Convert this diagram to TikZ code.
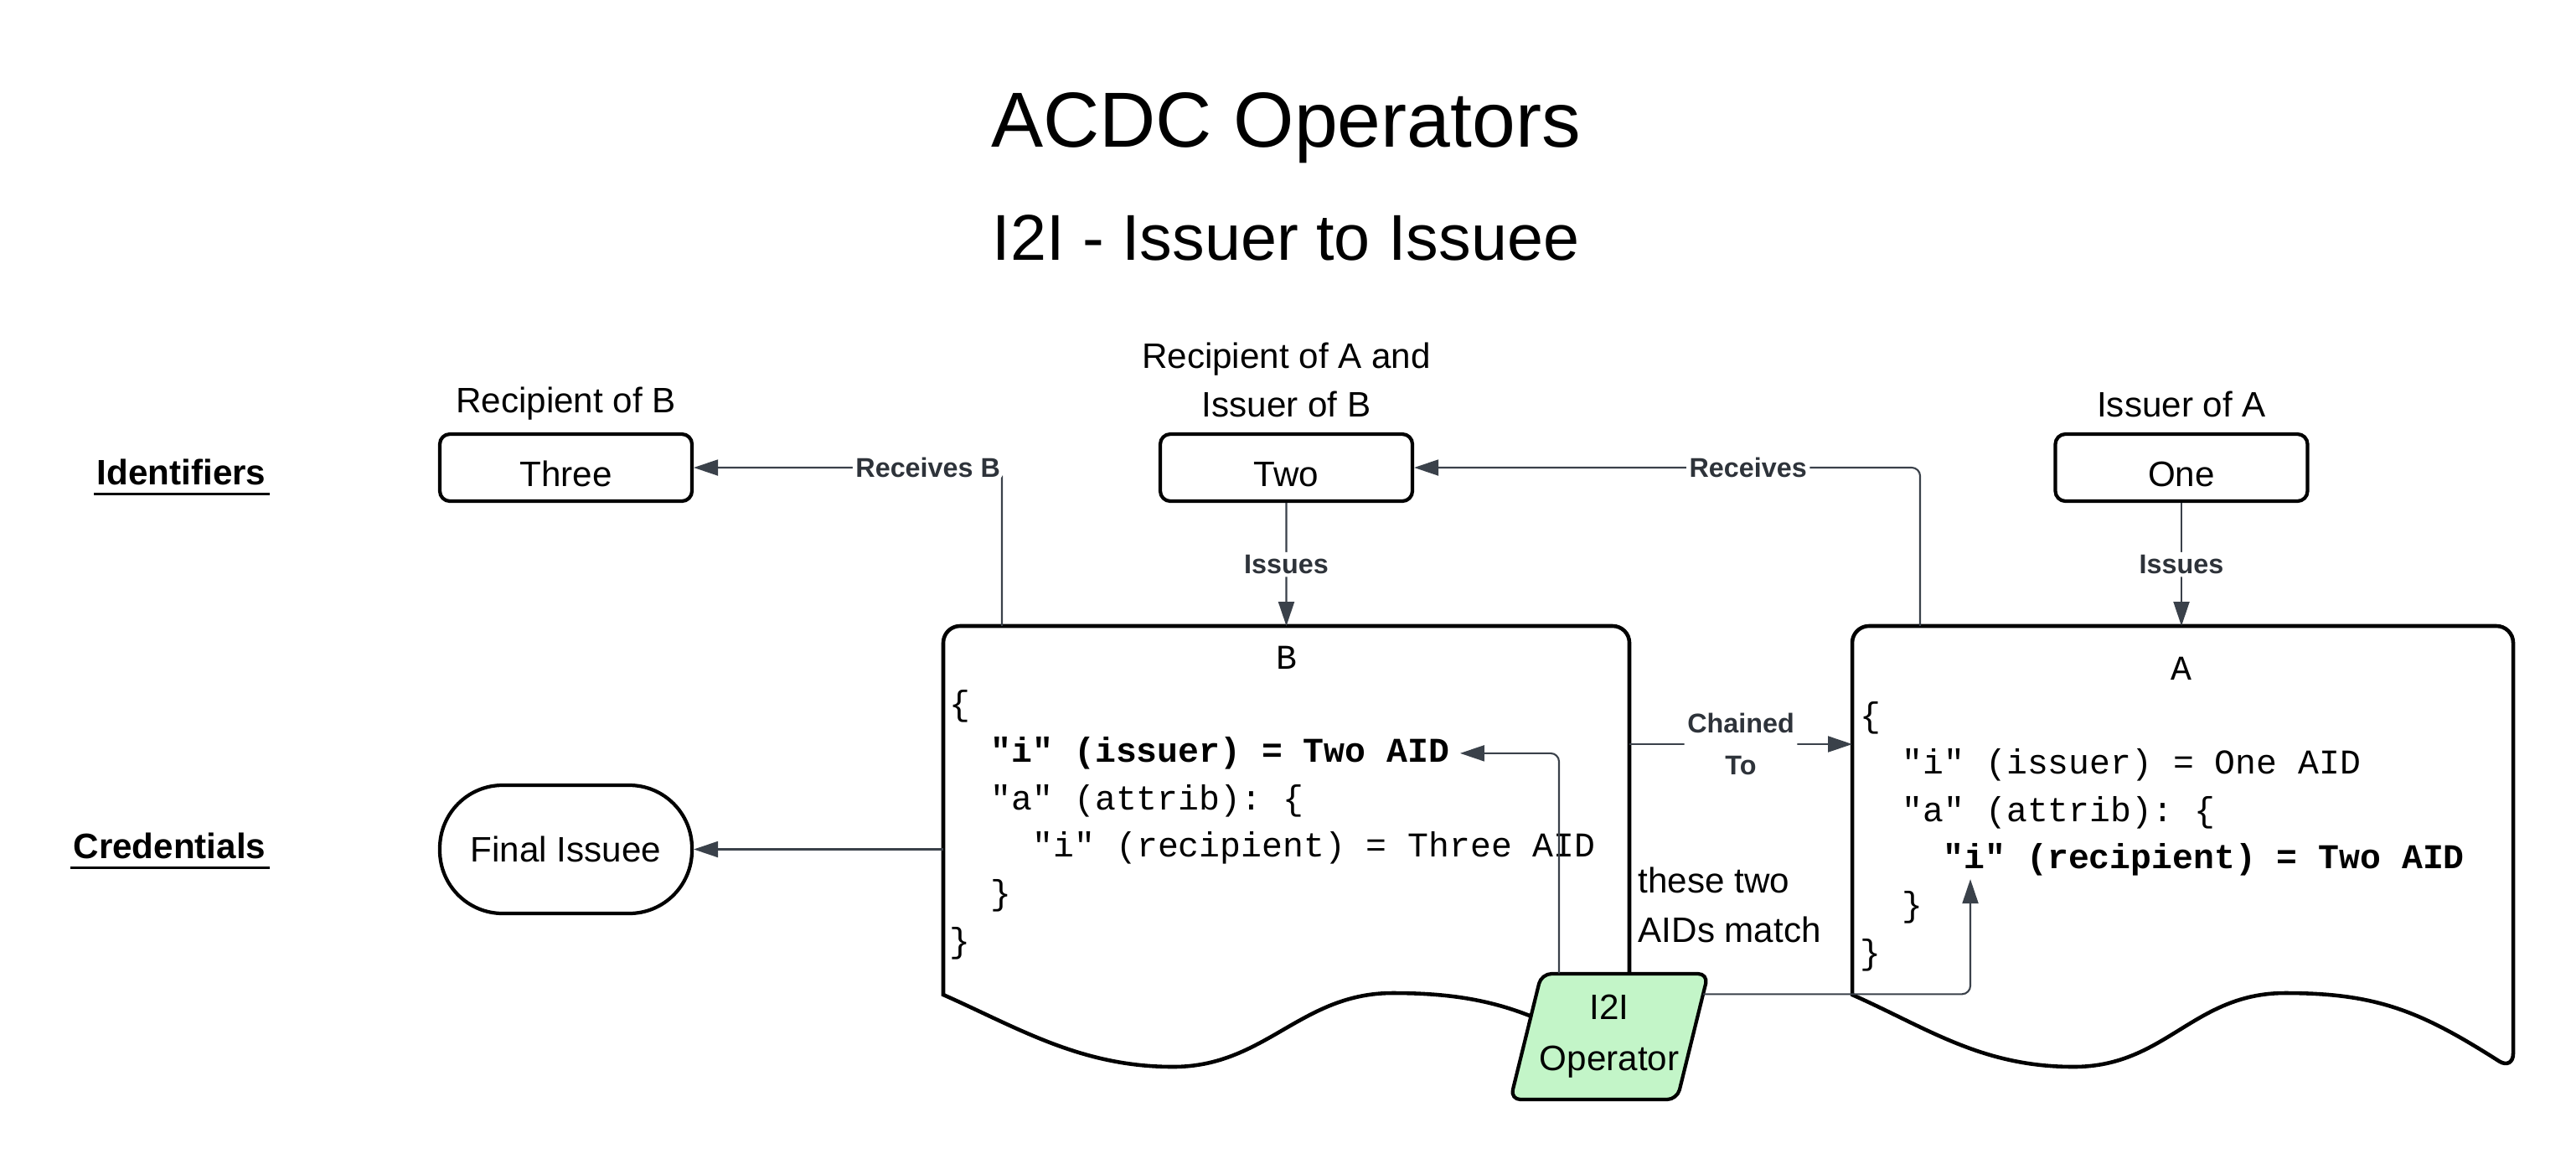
\documentclass[tikz,border=0pt]{standalone}
\usepackage{fontspec}
\setmainfont{Liberation Sans}
\setmonofont{Liberation Mono}
\usetikzlibrary{arrows.meta,calc}

\definecolor{connGray}{HTML}{3A414A}
\definecolor{labelGray}{HTML}{2E333A}
\definecolor{opGreen}{HTML}{C3F5C8}

\tikzset{
  conn/.style={draw=connGray, line width=0.6pt, rounded corners=1mm, -{Triangle[length=2.9mm,width=1.9mm]}},
  connlabel/.style={fill=white, text=labelGray, font=\bfseries\fontsize{9.2}{14}\selectfont, inner sep=1pt},
  idbox/.style={draw, line width=1.2pt, rounded corners=1.2mm, minimum width=3.01cm, minimum height=0.8cm,
    text height=12.6pt, text depth=0pt, font=\fontsize{12}{14}\selectfont},
  finalbox/.style={draw, line width=1.2pt, rounded corners=7.5mm, minimum width=3.01cm, minimum height=1.53cm,
    font=\fontsize{12}{14}\selectfont},
  captext/.style={inner sep=0pt, font=\fontsize{12}{16.5}\selectfont},
  rowlabel/.style={anchor=base east, inner sep=0pt, font=\bfseries\fontsize{12}{14}\selectfont},
  docframe/.style={anchor=north west, minimum width=8.19cm, minimum height=4.4cm, inner sep=0pt, outer sep=0pt},
  docline/.style={line width=1.3pt},
  doctitle/.style={anchor=base, inner sep=0pt, font=\ttfamily\fontsize{11.8}{14}\selectfont},
  codeline/.style={anchor=base west, inner sep=0pt, font=\ttfamily\fontsize{11.8}{14}\selectfont},
  opshape/.style={draw, fill=opGreen, line width=1.2pt, rounded corners=1.2mm},
  optext/.style={minimum width=1.99cm, minimum height=1.5cm, inner sep=0pt, align=center,
    font=\fontsize{12}{17.4}\selectfont},
  notetext/.style={anchor=north west, inner sep=0pt, align=left, font=\fontsize{12}{16.8}\selectfont},
}

% credential document outline with wavy bottom
\newcommand{\credshape}[1]{%
  \draw[docline] (#1.south west) [rounded corners=2mm] -- (#1.north west) -- (#1.north east)
    -- ([yshift=-9mm]#1.south east) [sharp corners]
    .. controls +(-1.1,0.7) and +(1.1,0) .. ($(#1.south west)!0.655!(#1.south east)+(0,0.02)$)
    .. controls +(-1.1,0) and +(1.1,0) .. ($(#1.south west)!0.335!(#1.south east)+(0,-0.86)$)
    .. controls +(-1.1,0) and +(0.9,-0.4) .. (#1.south west) -- cycle;}

\begin{document}
\begin{tikzpicture}
\useasboundingbox (0,0) rectangle (30.75,-13.88);

% headings
\node[anchor=base, inner sep=0pt, font=\fontsize{26.5}{30}\selectfont] (title) at (15.35,-1.75) {ACDC Operators};
\node[anchor=base, inner sep=0pt, font=\fontsize{22}{26}\selectfont] (subtitle) at (15.35,-3.10) {I2I - Issuer to Issuee};

% row labels
\node[rowlabel] (idlbl) at (3.18,-5.78) {Identifiers};
\node[rowlabel] (credlbl) at (3.18,-10.24) {Credentials};
\draw[line width=0.85pt] ([xshift=-0.3mm,yshift=-1.1mm]idlbl.base west) -- ([xshift=0.4mm,yshift=-1.1mm]idlbl.base east);
\draw[line width=0.85pt] ([xshift=-0.3mm,yshift=-1.1mm]credlbl.base west) -- ([xshift=0.4mm,yshift=-1.1mm]credlbl.base east);

% identifiers
\node[idbox] (three) at (6.755,-5.58) {Three};
\node[idbox] (two) at (15.355,-5.58) {Two};
\node[idbox] (one) at (26.04,-5.58) {One};
\node[captext] (threecap) at (6.755,-4.82) {Recipient of B};
\node[captext, align=center] (twocap) at (15.355,-4.53) {Recipient of A and\\Issuer of B};
\node[captext] (onecap) at (26.04,-4.82) {Issuer of A};

\node[finalbox] (final) at (6.755,-10.135) {Final Issuee};

% credentials
\node[docframe] (docB) at (11.26,-7.47) {};
\node[docframe, minimum width=7.89cm] (docA) at (22.11,-7.47) {};
\credshape{docB}
\credshape{docA}

\node[doctitle] (bTitle) at (15.36,-7.98) {B};
\node[codeline] (bOpen) at (11.33,-8.53) {\{};
\node[codeline] (bIssuer) at (11.82,-9.096) {\textbf{"i" (issuer) = Two AID}};
\node[codeline] (bAttrib) at (11.82,-9.662) {"a" (attrib): \{};
\node[codeline] (bRecip) at (12.32,-10.228) {"i" (recipient) = Three AID};
\node[codeline] (bCloseIn) at (11.82,-10.794) {\}};
\node[codeline] (bCloseOut) at (11.33,-11.36) {\}};

\node[doctitle] (aTitle) at (26.04,-8.11) {A};
\node[codeline] (aOpen) at (22.20,-8.67) {\{};
\node[codeline] (aIssuer) at (22.70,-9.236) {"i" (issuer) = One AID};
\node[codeline] (aAttrib) at (22.70,-9.802) {"a" (attrib): \{};
\node[codeline] (aRecip) at (23.19,-10.368) {\textbf{"i" (recipient) = Two AID}};
\node[codeline] (aCloseIn) at (22.70,-10.934) {\}};
\node[codeline] (aCloseOut) at (22.20,-11.50) {\}};

% operator
\draw[opshape] (18.03,-13.12) -- (18.40,-11.62) -- (20.39,-11.62) -- (20.02,-13.12) -- cycle;
\node[optext] (i2i) at (19.21,-12.37) {I2I\\Operator};

\node[notetext] (note) at (19.55,-10.34) {these two\\AIDs match};

% connectors
\draw[conn] (two.south) -- (docB.north) node[midway, connlabel] {Issues};
\draw[conn] (one.south) -- (one.south |- docA.north) node[midway, connlabel] {Issues};
\draw[conn] ([xshift=7mm]docB.north west) |- (three.east) node[pos=0.62, connlabel] {Receives B};
\draw[conn] ([xshift=8.1mm]docA.north west) |- (two.east) node[pos=0.67, connlabel] {Receives};
\draw[conn] ([yshift=7.9mm]docB.east) -- ([yshift=7.9mm]docA.west) node[midway, connlabel, align=center] {Chained\\To};
\draw[conn] (docB.west |- final) -- (final);
\draw[conn] ([xshift=-6mm]i2i.north) |- ([xshift=1.2mm]bIssuer.east);
\draw[conn] ([xshift=1.2mm,yshift=-2.5mm]i2i.north east) -| ([xshift=3.3mm,yshift=-0.3mm]aRecip.south west);
\end{tikzpicture}
\end{document}
